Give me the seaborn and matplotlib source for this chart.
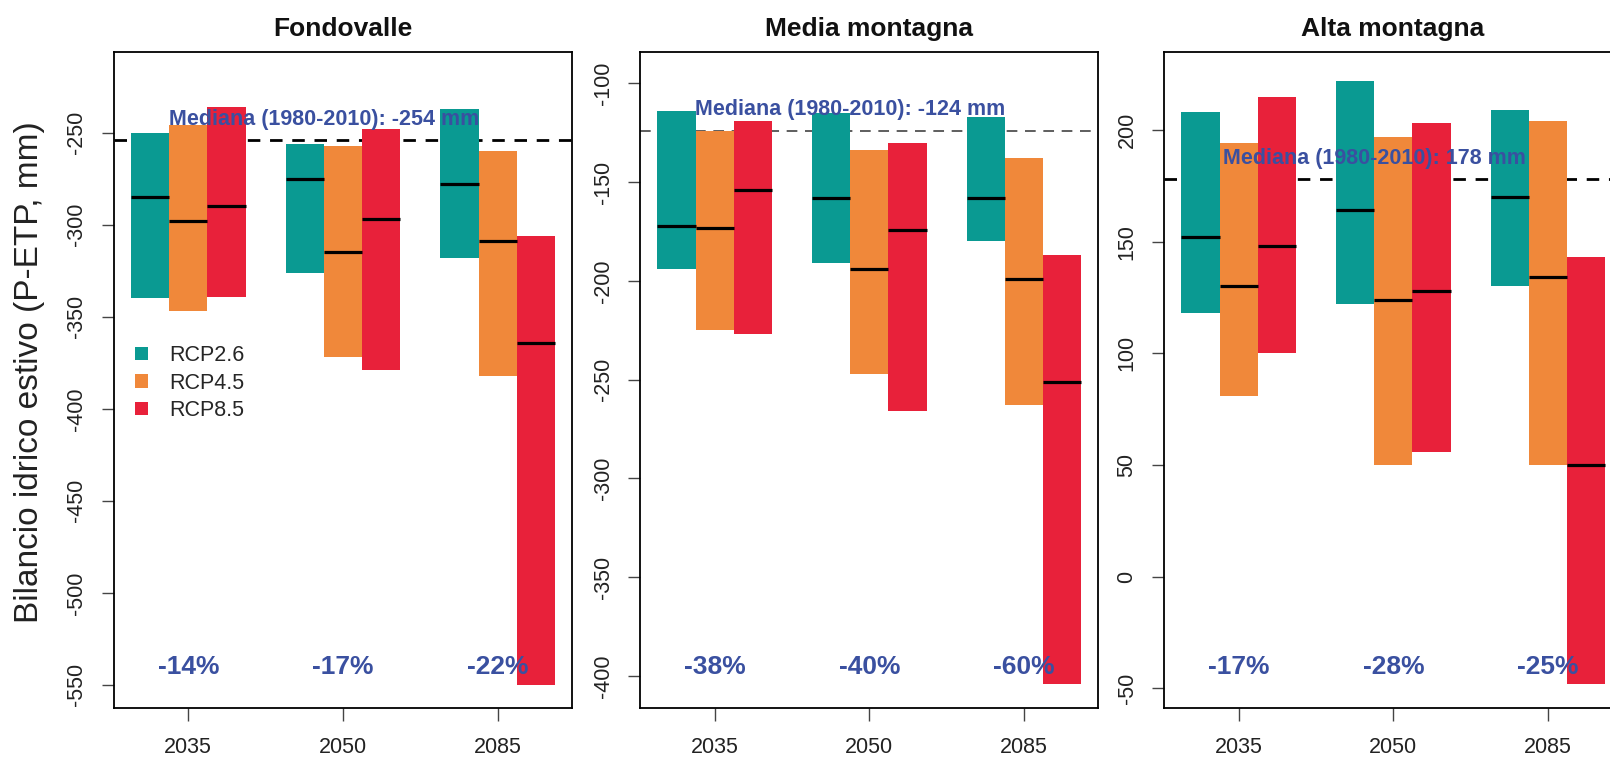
import numpy as np
import pandas as pd
import matplotlib
matplotlib.use("Agg")
import matplotlib.pyplot as plt
import matplotlib.transforms as mtransforms
from matplotlib.patches import Patch
import seaborn as sns

# ---------------- data ----------------
periods = ["2035", "2050", "2085"]
scenarios = ["RCP2.6", "RCP4.5", "RCP8.5"]
panels = ["Fondovalle", "Media montagna", "Alta montagna"]

# values per scenario (rows) and period (columns)
fondo_low = [[-340, -326, -318], [-347, -372, -382], [-339, -379, -550]]
fondo_high = [[-250, -256, -237], [-246, -257, -260], [-236, -248, -306]]
fondo_med = [[-285, -275, -278], [-298, -315, -309], [-290, -297, -364]]

media_low = [[-194, -191, -180], [-225, -247, -263], [-227, -266, -404]]
media_high = [[-114, -115, -117], [-124, -134, -138], [-119, -130, -187]]
media_med = [[-172, -158, -158], [-173, -194, -199], [-154, -174, -251]]

alta_low = [[118, 122, 130], [81, 50, 50], [100, 56, -48]]
alta_high = [[208, 222, 209], [194, 197, 204], [215, 203, 143]]
alta_med = [[152, 164, 170], [130, 124, 134], [148, 128, 50]]

baseline = [-254, -124, 178]
baseline_labels = ["Mediana (1980-2010): -254 mm",
                   "Mediana (1980-2010): -124 mm",
                   "Mediana (1980-2010): 178 mm"]
pct_labels = [["-14%", "-17%", "-22%"],
              ["-38%", "-40%", "-60%"],
              ["-17%", "-28%", "-25%"]]

ylims = [(-562.7, -206.0), (-416.3, -84.0), (-59.0, 235.1)]
yticks = [[-550, -500, -450, -400, -350, -300, -250],
          [-400, -350, -300, -250, -200, -150, -100],
          [-50, 0, 50, 100, 150, 200]]

ylabel = "Bilancio idrico estivo (P-ETP, mm)"

colors = {"RCP2.6": "#0a9a92", "RCP4.5": "#f0883a", "RCP8.5": "#e8213a"}
text_blue = "#3a50a0"

lows = [fondo_low, media_low, alta_low]
highs = [fondo_high, media_high, alta_high]
meds = [fondo_med, media_med, alta_med]

rows = []
for p, panel in enumerate(panels):
    for s, sc in enumerate(scenarios):
        for t, per in enumerate(periods):
            rows.append(dict(panel=panel, scenario=sc, period=per,
                             low=lows[p][s][t], high=highs[p][s][t], med=meds[p][s][t]))
df = pd.DataFrame(rows)

# ---------------- style ----------------
sns.set_theme(style="ticks")
plt.rcParams["font.family"] = ["Liberation Sans", "DejaVu Sans"]
plt.rcParams["axes.edgecolor"] = "black"
plt.rcParams["axes.linewidth"] = 1.3

fig = plt.figure(figsize=(16.1, 7.6), dpi=100)

W, H = 1610.0, 760.0
ax_lefts = [113.6, 640.0, 1164.0]
ax_width = 458.0
ax_top, ax_bot = 51.7, 708.3

bar_w = 0.247
offsets = {"RCP2.6": -bar_w, "RCP4.5": 0.0, "RCP8.5": bar_w}
xpos = np.arange(len(periods))

for p, panel in enumerate(panels):
    ax = fig.add_axes([ax_lefts[p] / W, (H - ax_bot) / H, ax_width / W, (ax_bot - ax_top) / H])
    sub = df[df.panel == panel]

    # baseline dashed line (behind bars)
    lw = 1.1 if p == 1 else 2.0
    ax.axhline(baseline[p], color="black" if p != 1 else "#333333", lw=lw,
               ls=(0, (4.5, 3.5)) if p != 1 else (0, (7, 5)), zorder=1)

    for sc in scenarios:
        d = sub[sub.scenario == sc]
        xs = xpos + offsets[sc]
        ax.bar(xs, d["high"].values - d["low"].values, bottom=d["low"].values,
               width=bar_w, color=colors[sc], edgecolor="none", zorder=2)
        ax.hlines(d["med"].values, xs - bar_w / 2, xs + bar_w / 2,
                  color="black", lw=2.3, zorder=3)

    ax.set_xlim(-0.483, 2.478)
    ax.set_ylim(*ylims[p])
    ax.set_xticks(xpos)
    ax.set_xticklabels(periods)
    ax.set_yticks(yticks[p])
    ax.set_yticklabels([str(v) for v in yticks[p]])
    ax.tick_params(axis="both", length=9, width=1.0, color="#444444",
                   labelsize=15.5, labelcolor="#222222")
    ax.tick_params(axis="x", pad=12)
    ax.tick_params(axis="y", pad=10, labelrotation=90)
    for lab in ax.get_yticklabels():
        lab.set_va("center")
    for sp in ax.spines.values():
        sp.set_visible(True)
        sp.set_color("black")
        sp.set_linewidth(1.3)

    # baseline label
    ax.annotate(baseline_labels[p], xy=(0.875, baseline[p]), xytext=(0, 15),
                textcoords="offset points", ha="center", va="center",
                fontsize=15.5, fontweight="bold", color=text_blue, zorder=4)

    # percentage labels
    trans = mtransforms.blended_transform_factory(ax.transData, ax.transAxes)
    for t, lab in enumerate(pct_labels[p]):
        ax.text(xpos[t], 0.063, lab, transform=trans, ha="center", va="center",
                fontsize=19, fontweight="bold", color=text_blue, zorder=4)

    # title
    ax.text(0.5, 1 + 23.0 / (ax_bot - ax_top), panel, transform=ax.transAxes,
            ha="center", va="center", fontsize=19, fontweight="bold", color="#111111")

    if p == 0:
        handles = [Patch(facecolor=colors[sc], edgecolor="none", label=sc) for sc in scenarios]
        ax.legend(handles=handles, loc="upper left", bbox_to_anchor=(0.047, 0.553),
                  frameon=False, fontsize=15.5, handlelength=0.6, handleheight=0.6,
                  handletextpad=1.0, labelspacing=0.3, borderpad=0, borderaxespad=0)

fig.text(30 / W, 1 - 372 / H, ylabel, rotation=90, ha="center", va="center",
         fontsize=24, color="#222222")

fig.savefig("out.png", dpi=100)
